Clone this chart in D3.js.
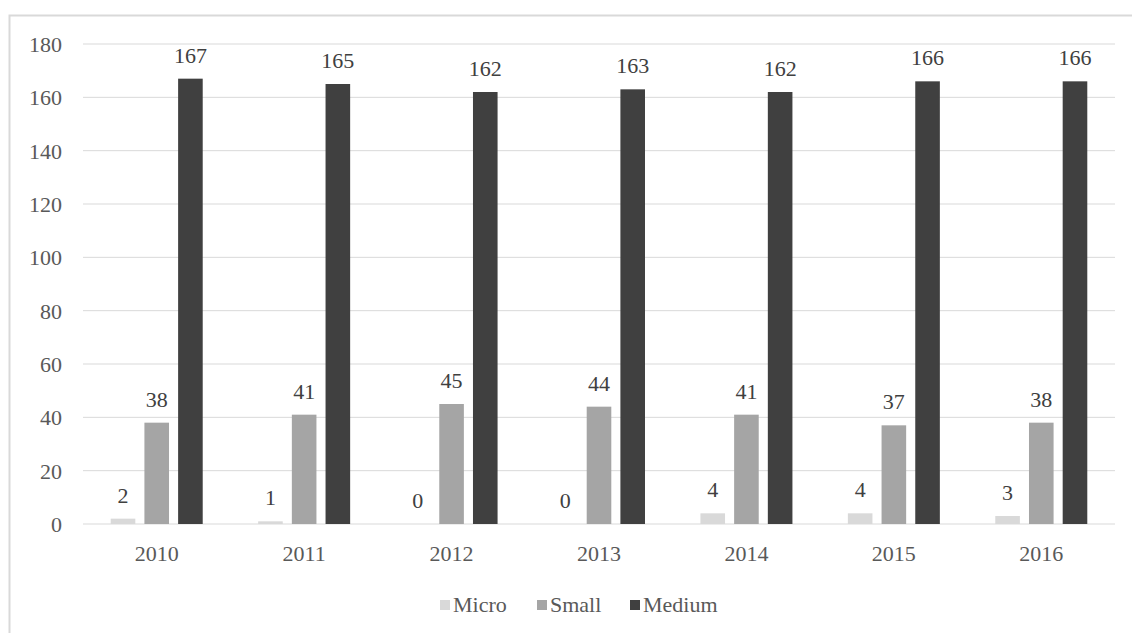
<!DOCTYPE html>
<html>
<meta charset="utf-8">
<head>
  <title>Micro / Small / Medium by year</title>
</head>
<style>
body { margin: 0; background: #fff; }
</style>
<body>
<svg width="1132" height="633"></svg>
<script src="https://d3js.org/d3.v7.min.js"></script>
<script>
var years = ['2010', '2011', '2012', '2013', '2014', '2015', '2016']
var series = ['Micro', 'Small', 'Medium']
var micro = [2, 1, 0, 0, 4, 4, 3]
var small = [38, 41, 45, 44, 41, 37, 38]
var medium = [167, 165, 162, 163, 162, 166, 166]
var yTicks = [0, 20, 40, 60, 80, 100, 120, 140, 160, 180]
var colors = ['#d9d9d9', '#a5a5a5', '#404040']

var font = "'Liberation Serif', 'Times New Roman', serif"
var values = [micro, small, medium]
var svg = d3.select('svg').style('font-family', font)

// chart border
svg.append('rect')
  .attr('x', 9.5).attr('y', 15.5)
  .attr('width', 1140).attr('height', 640)
  .attr('fill', 'none').attr('stroke', '#d9d9d9').attr('stroke-width', 2)

var x = d3.scaleBand().domain(years).range([83, 1115])
var xi = d3.scaleBand().domain(series).range([-46, 46]).paddingInner(0.27)
var y = d3.scaleLinear().domain([0, 180]).range([524, 44])

// gridlines
svg.append('g').selectAll('line')
  .data(yTicks)
  .enter().append('line')
  .attr('x1', 83).attr('x2', 1115)
  .attr('y1', function(d) { return y(d) })
  .attr('y2', function(d) { return y(d) })
  .attr('stroke', '#d9d9d9').attr('stroke-width', 1)

// y labels
svg.append('g').selectAll('text')
  .data(yTicks)
  .enter().append('text')
  .attr('x', 62)
  .attr('y', function(d) { return y(d) + 8 })
  .attr('text-anchor', 'end')
  .style('font-size', '22px')
  .attr('fill', '#595959')
  .text(function(d) { return d })

// x labels
svg.append('g').selectAll('text')
  .data(years)
  .enter().append('text')
  .attr('x', function(d) { return x(d) + x.bandwidth() / 2 })
  .attr('y', 561)
  .attr('text-anchor', 'middle')
  .style('font-size', '22px')
  .attr('fill', '#595959')
  .text(function(d) { return d })

// bars
series.forEach(function(s, si) {
  var g = svg.append('g')
  var rows = years.map(function(yr, i) { return {year: yr, v: values[si][i]} })
  g.selectAll('rect')
    .data(rows)
    .enter().append('rect')
    .attr('x', function(d) { return x(d.year) + x.bandwidth() / 2 + xi(s) })
    .attr('y', function(d) { return y(d.v) })
    .attr('width', xi.bandwidth())
    .attr('height', function(d) { return y(0) - y(d.v) })
    .attr('fill', colors[si])
  g.selectAll('text')
    .data(rows)
    .enter().append('text')
    .attr('x', function(d) { return x(d.year) + x.bandwidth() / 2 + xi(s) + xi.bandwidth() / 2 })
    .attr('y', function(d) { return y(d.v) - 16 })
    .attr('text-anchor', 'middle')
    .style('font-size', '22px')
    .attr('fill', '#404040')
    .text(function(d) { return d.v })
})

// legend
var legX = [440, 537, 630]
var leg = svg.append('g').selectAll('g')
  .data(series)
  .enter().append('g')
  .attr('transform', function(d, i) { return 'translate(' + legX[i] + ',600)' })
leg.append('rect')
  .attr('width', 10).attr('height', 10)
  .attr('fill', function(d, i) { return colors[i] })
leg.append('text')
  .attr('x', 13).attr('y', 12)
  .style('font-size', '22px')
  .attr('fill', '#595959')
  .text(function(d) { return d })
</script>
</body>
</html>
